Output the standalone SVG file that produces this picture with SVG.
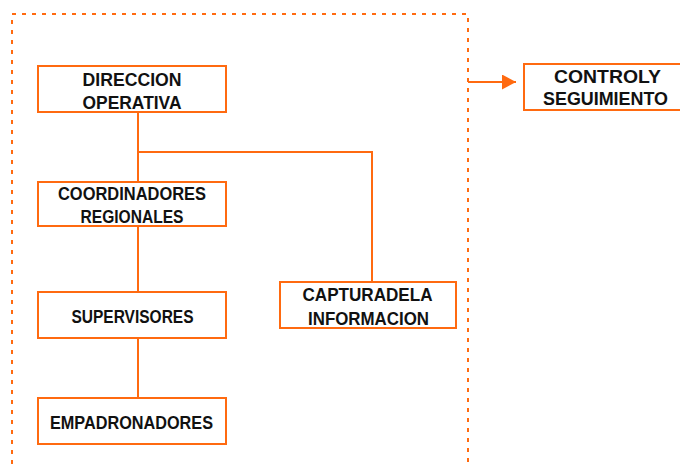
<svg xmlns="http://www.w3.org/2000/svg" width="680" height="468" viewBox="0 0 680 468">
<style>
.box{fill:#fff;stroke:#FF6A10;stroke-width:2}
.ln{fill:none;stroke:#FF6A10;stroke-width:2}
.dash{fill:none;stroke:#FF6A10;stroke-width:2;stroke-dasharray:4 6}
text{font-family:"Liberation Sans",Arial,sans-serif;font-weight:bold;font-size:19px;fill:#111;text-anchor:middle}
</style>
<defs>
<marker id="ah" markerWidth="14" markerHeight="15" refX="14" refY="7.5" orient="auto" markerUnits="userSpaceOnUse">
<path d="M0,0 L14,7.5 L0,15 Z" fill="#FF6A10"/>
</marker>
</defs>
<path class="dash" d="M12,464 V14 H468 V464"/>
<g id="connectors">
<path class="ln" d="M138,112 V182"/>
<path class="ln" d="M138,226 V292"/>
<path class="ln" d="M138,338 V398"/>
<path class="ln" d="M138,152 H372 V282"/>
<path class="ln" d="M468,82 H516" marker-end="url(#ah)"/>
</g>
<g id="direccion">
<rect class="box" x="38" y="66" width="188" height="46"/>
<text x="132" y="86" textLength="99" lengthAdjust="spacingAndGlyphs">DIRECCION</text>
<text x="132" y="109" textLength="99" lengthAdjust="spacingAndGlyphs">OPERATIVA</text>
</g>
<g id="coordinadores">
<rect class="box" x="38" y="182" width="188" height="44"/>
<text x="132" y="200" textLength="148" lengthAdjust="spacingAndGlyphs">COORDINADORES</text>
<text x="132" y="223" textLength="103" lengthAdjust="spacingAndGlyphs">REGIONALES</text>
</g>
<g id="supervisores">
<rect class="box" x="38" y="292" width="188" height="46"/>
<text x="132.5" y="323" textLength="122" lengthAdjust="spacingAndGlyphs">SUPERVISORES</text>
</g>
<g id="empadronadores">
<rect class="box" x="38" y="398" width="188" height="46"/>
<text x="131.5" y="429" textLength="163" lengthAdjust="spacingAndGlyphs">EMPADRONADORES</text>
</g>
<g id="captura">
<rect class="box" x="280" y="282" width="176" height="46"/>
<text x="367.5" y="301" textLength="130" lengthAdjust="spacingAndGlyphs">CAPTURADELA</text>
<text x="368.5" y="325" textLength="121" lengthAdjust="spacingAndGlyphs">INFORMACION</text>
</g>
<g id="control">
<rect class="box" x="524" y="64" width="170" height="46"/>
<text x="607.5" y="83" textLength="107" lengthAdjust="spacingAndGlyphs">CONTROLY</text>
<text x="605.5" y="105" textLength="125" lengthAdjust="spacingAndGlyphs">SEGUIMIENTO</text>
</g>
</svg>
